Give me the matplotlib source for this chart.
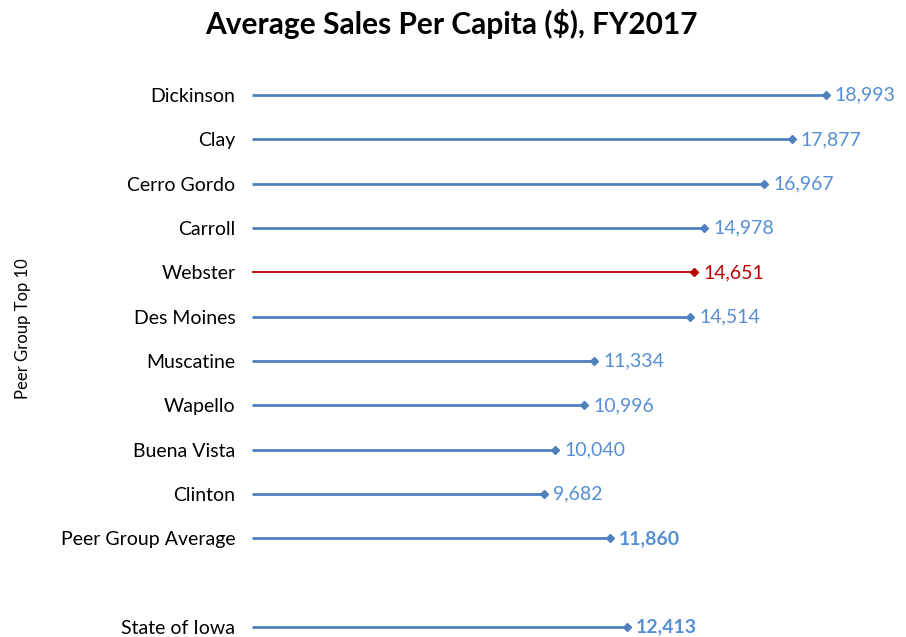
import matplotlib.pyplot as plt

# Data
counties = ["Dickinson", "Clay", "Cerro Gordo", "Carroll", "Webster", "Des Moines",
            "Muscatine", "Wapello", "Buena Vista", "Clinton", "Peer Group Average",
            "", "State of Iowa"]
sales = [18993, 17877, 16967, 14978, 14651, 14514, 11334, 10996, 10040, 9682, 11860,
         None, 12413]
highlight = "Webster"
bold_rows = ["Peer Group Average", "State of Iowa"]

blue = "#4F81BD"
label_blue = "#558ED5"
red = "#C00000"

plt.rcParams['font.family'] = ['Lato', 'DejaVu Sans']

fig = plt.figure(figsize=(9.06, 6.37), dpi=100)
ax = fig.add_axes([252 / 906, 0.0, (856 - 252) / 906, 1 - 73 / 637])

for i, (name, val) in enumerate(zip(counties, sales)):
    if val is None:
        continue
    if name == highlight:
        col, tcol, lw = red, red, 1.3
    else:
        col, tcol, lw = blue, label_blue, 2.0
    ax.plot([0, val], [i, i], color=col, lw=lw, solid_capstyle='butt')
    ax.plot([val], [i], marker='D', ms=4, color=col)
    ax.text(val + 300, i, f"{val:,}", va='center', ha='left', fontsize=14,
            color=tcol, fontweight='bold' if name in bold_rows else 'normal')

ax.set_yticks(range(len(counties)))
ax.set_yticklabels(counties, fontsize=14)
ax.tick_params(axis='y', length=0, pad=12)
ax.set_xlim(0, 20000)
ax.set_ylim((637 - 95) / 44.33, -0.5)
ax.set_xticks([])
for s in ax.spines.values():
    s.set_visible(False)

fig.text(23 / 906, 1 - 329 / 637, "Peer Group Top 10", rotation=90, va='center', ha='center',
         fontsize=12)
fig.text(451 / 906, 1 - 24 / 637, "Average Sales Per Capita ($), FY2017", ha='center',
         va='center', fontsize=21.5, fontweight='bold')

fig.savefig("out.png", dpi=100)
